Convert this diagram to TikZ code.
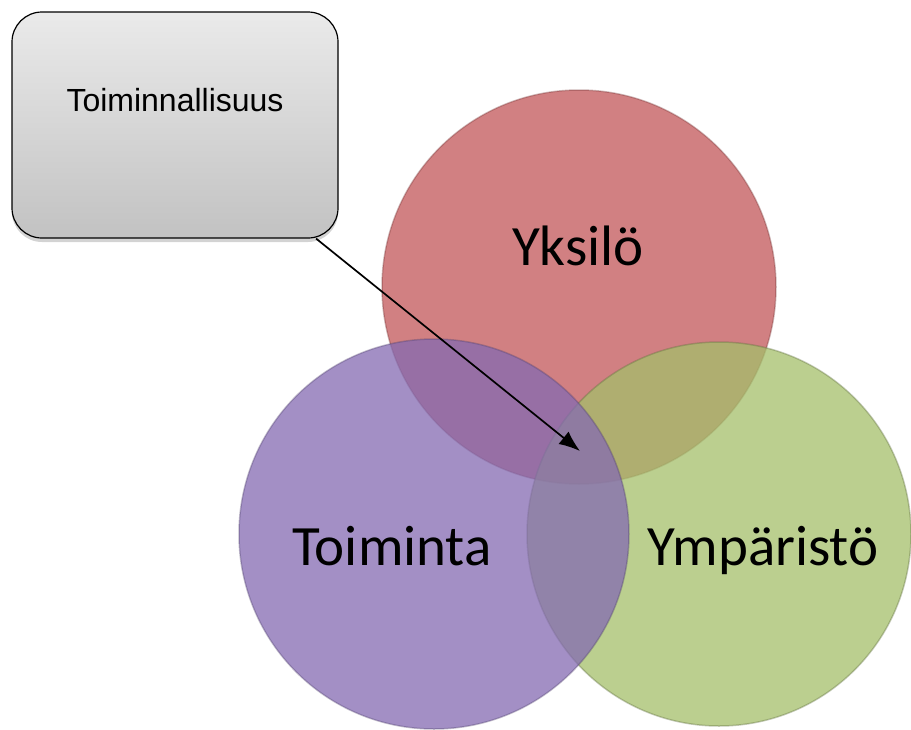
\documentclass[tikz,border=0pt]{standalone}
\usepackage{fontspec}
\newfontfamily\vennfont{Carlito}
\newfontfamily\boxfont{Liberation Sans}
\usetikzlibrary{arrows.meta,shadows}
\definecolor{yksred}{RGB}{194,86,88}
\definecolor{ympgreen}{RGB}{164,191,106}
\definecolor{toipurple}{RGB}{132,106,178}
\definecolor{boxtop}{RGB}{234,234,234}
\definecolor{boxbottom}{RGB}{194,194,194}

\tikzset{
  venn/.style={circle,inner sep=0pt,fill opacity=0.75,draw opacity=0.35,line width=1.5pt},
  venntext/.style={font=\vennfont\fontsize{57}{62}\selectfont,anchor=base},
  funcbox/.style={draw,line width=1.2pt,rounded corners=30pt,top color=boxtop,bottom color=boxbottom,
    minimum width=326pt,minimum height=226pt,text height=23pt,text depth=51pt,
    font=\boxfont\fontsize{32}{36}\selectfont,
    drop shadow={opacity=0.35,shadow xshift=0pt,shadow yshift=-4pt}},
  pointer/.style={-{Latex[length=21pt,width=16pt]},line width=1.7pt}
}

\begin{document}
\begin{tikzpicture}[x=1pt,y=-1pt]
    \useasboundingbox (0,0) rectangle (911,729);

    % the three circles
    \node[venn,fill=yksred,draw=yksred!60!black,minimum size=394pt] (yksilo) at (579,287) {};
    \node[venn,fill=ympgreen,draw=ympgreen!55!black,minimum size=384pt] (ymparisto) at (719,534) {};
    \node[venn,fill=toipurple,draw=toipurple!60!black,minimum size=390pt] (toiminta) at (434,534) {};

    % circle labels
    \node[venntext] (yksilo-lbl) at (578,265) {Yksilö};
    \node[venntext] (toiminta-lbl) at (392,565) {Toiminta};
    \node[venntext] (ymparisto-lbl) at (763,565) {Ympäristö};

    % callout box and its pointer
    \node[funcbox] (func) at (175,125) {Toiminnallisuus};
    \coordinate (tip) at (580,451);
    \draw[pointer] (func) -- (tip);
\end{tikzpicture}
\end{document}
